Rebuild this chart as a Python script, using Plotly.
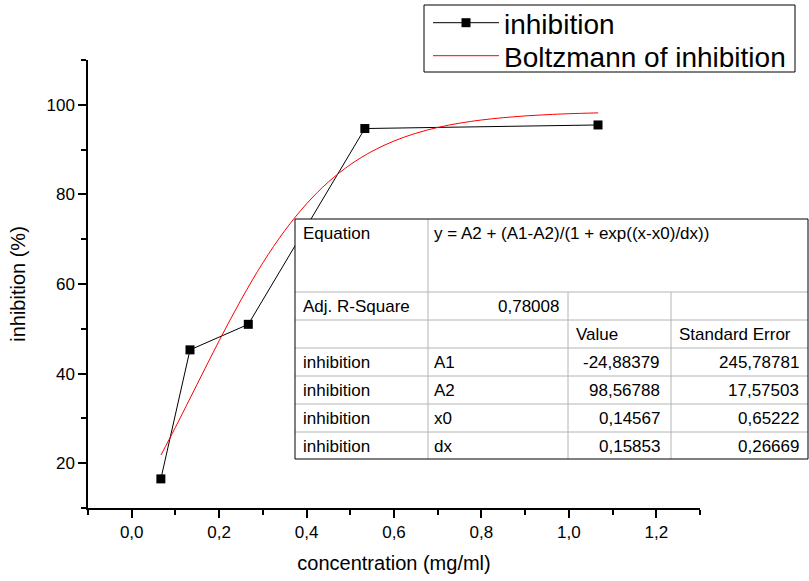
import plotly.graph_objects as go

# ---------------- data ----------------
concentration = [0.0667, 0.1333, 0.2667, 0.5333, 1.0667]
inhibition = [16.5, 45.3, 51.0, 94.7, 95.5]

# Boltzmann fit curve
fit_x = [0.067, 0.10, 0.15, 0.20, 0.25, 0.30, 0.35, 0.40, 0.45, 0.50, 0.55,
         0.60, 0.65, 0.70, 0.75, 0.80, 0.85, 0.90, 0.95, 1.00, 1.067]
fit_y = [21.84, 28.01, 37.69, 47.32, 56.45, 64.72, 71.90, 77.90, 82.78, 86.64, 89.63,
         91.92, 93.65, 94.94, 95.90, 96.61, 97.13, 97.52, 97.80, 98.01, 98.20]

# fit result table
eq_label = "Equation"
eq_text = "y = A2 + (A1-A2)/(1 + exp((x-x0)/dx))"
r2_label = "Adj. R-Square"
r2_value = 0.78008
col_headers = ["Value", "Standard Error"]
param_series = ["inhibition", "inhibition", "inhibition", "inhibition"]
param_names = ["A1", "A2", "x0", "dx"]
param_values = [-24.88379, 98.56788, 0.14567, 0.15853]
param_errors = [245.78781, 17.57503, 0.65222, 0.26669]

x_ticks_major = 0.2
y_ticks_major = 20

# ---------------- layout geometry (pixels) ----------------
W, H = 809, 581
L, R, T, B = 88, 700, 60, 508
FONT = "Arial, Liberation Sans, sans-serif"


def px(x):
    return (x - L) / (R - L)


def py(y):
    return (B - y) / (B - T)


def fmt(v):
    return f"{v:.5f}".replace(".", ",")


fig = go.Figure()
fig.add_trace(go.Scatter(
    x=concentration, y=inhibition, mode="lines+markers", name="inhibition",
    line=dict(color="black", width=1),
    marker=dict(symbol="square", size=9, color="black"),
    legend="legend",
))
fig.add_trace(go.Scatter(
    x=fit_x, y=fit_y, mode="lines", name="Boltzmann of inhibition",
    line=dict(color="red", width=1, shape="spline"),
    legend="legend2",
))

shapes = []
# legend frame
shapes.append(dict(type="rect", xref="paper", yref="paper", x0=px(424), x1=px(795),
                   y0=py(72), y1=py(5), fillcolor="white",
                   line=dict(color="black", width=1), layer="above"))

# ---------------- table ----------------
tl, tr, tt, tb = 295, 808, 219, 459
c1, c2, c3 = 428, 568, 671
rows = [292, 320, 348, 376, 404, 432]
shapes.append(dict(type="rect", xref="paper", yref="paper", x0=px(tl), x1=px(tr),
                   y0=py(tb), y1=py(tt), fillcolor="white",
                   line=dict(color="rgba(0,0,0,0)", width=0), layer="above"))
grey = "#b4b4b4"
for ry in rows:
    shapes.append(dict(type="line", xref="paper", yref="paper", x0=px(tl), x1=px(tr),
                       y0=py(ry), y1=py(ry), line=dict(color=grey, width=1), layer="above"))
shapes.append(dict(type="line", xref="paper", yref="paper", x0=px(c1), x1=px(c1),
                   y0=py(tb), y1=py(tt), line=dict(color=grey, width=1), layer="above"))
for cx in (c2, c3):
    shapes.append(dict(type="line", xref="paper", yref="paper", x0=px(cx), x1=px(cx),
                       y0=py(tb), y1=py(rows[0]), line=dict(color=grey, width=1), layer="above"))
for (xa, ya, xb, yb) in [(tl, tt, tr, tt), (tl, tt, tl, tb), (tl, tb, tr, tb), (tr, tt, tr, tb)]:
    shapes.append(dict(type="line", xref="paper", yref="paper", x0=px(xa), x1=px(xb),
                       y0=py(ya), y1=py(yb), line=dict(color="black", width=1), layer="above"))

tfont = dict(family=FONT, size=17, color="black")
annotations = []


def add_text(text, x, y, anchor):
    annotations.append(dict(text=text, xref="paper", yref="paper", x=px(x), y=py(y),
                            xanchor=anchor, yanchor="middle", showarrow=False, font=tfont))


add_text(eq_label, 301, 233, "left")
add_text(eq_text, 432, 233, "left")
add_text(r2_label, 301, 306, "left")
add_text(fmt(r2_value), 561, 306, "right")
add_text(col_headers[0], 574, 334, "left")
add_text(col_headers[1], 677, 334, "left")
row_centers = [362, 390, 418, 446]
for i in range(4):
    add_text(param_series[i], 301, row_centers[i], "left")
    add_text(param_names[i], 432, row_centers[i], "left")
    add_text(fmt(param_values[i]), 662, row_centers[i], "right")
    add_text(fmt(param_errors[i]), 801, row_centers[i], "right")

axis_font = dict(family=FONT, size=17, color="black")
leg_font = dict(family=FONT, size=28, color="black")
leg_common = dict(xanchor="left", yanchor="middle", borderwidth=0,
                  bgcolor="rgba(0,0,0,0)", font=leg_font, itemwidth=66)
fig.update_layout(
    width=W, height=H,
    margin=dict(l=L, r=W - R, t=T, b=H - B, autoexpand=False),
    paper_bgcolor="white", plot_bgcolor="white",
    separators=",.",
    font=dict(family=FONT, color="black"),
    shapes=shapes, annotations=annotations,
    showlegend=True,
    legend=dict(x=px(428), y=py(23), **leg_common),
    legend2=dict(x=px(428), y=py(56), **leg_common),
    xaxis=dict(range=[-0.1, 1.3], tick0=0, dtick=x_ticks_major, tickformat=".1f",
               showgrid=False, zeroline=False, showline=True, linecolor="black", linewidth=1.5,
               ticks="outside", ticklen=8, tickwidth=1.5, tickcolor="black",
               tickfont=axis_font,
               minor=dict(dtick=0.1, ticklen=5, tickwidth=1.5, tickcolor="black", ticks="outside", showgrid=False),
               title=dict(text="concentration (mg/ml)", font=dict(family=FONT, size=20)),
               ),
    yaxis=dict(range=[10, 110], tick0=0, dtick=y_ticks_major,
               showgrid=False, zeroline=False, showline=True, linecolor="black", linewidth=1.5,
               ticks="outside", ticklen=8, tickwidth=1.5, tickcolor="black",
               tickfont=axis_font,
               minor=dict(dtick=10, ticklen=5, tickwidth=1.5, tickcolor="black", ticks="outside", showgrid=False),
               title=dict(text="inhibition (%)", font=dict(family=FONT, size=20)),
               ),
)

fig.write_html("out.html", config={"displayModeBar": False},
               post_script="document.body.style.margin='0';")
